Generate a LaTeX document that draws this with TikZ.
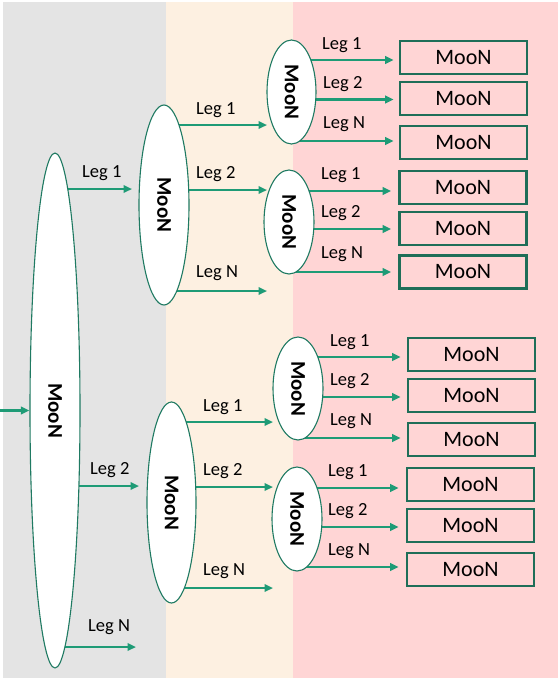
\documentclass[tikz,border=0pt]{standalone}
\usepackage{fontspec}
\usepackage{graphicx}
\setmainfont{Carlito}
\usetikzlibrary{arrows.meta,shapes.geometric}
\definecolor{bandgray}{HTML}{E4E4E4}
\definecolor{bandbeige}{HTML}{FDF0E1}
\definecolor{bandpink}{HTML}{FFD5D5}
\definecolor{arrgreen}{HTML}{1E9B76}
\definecolor{ellgreen}{HTML}{1F7A62}
\definecolor{boxgreen}{HTML}{1F6E58}
\pgfdeclarelayer{bands}
\pgfdeclarelayer{arrows}
\pgfsetlayers{bands,arrows,main}
\tikzset{
  moon/.style={ellipse, draw=ellgreen, line width=1.1pt, fill=white, inner sep=0pt},
  leafbox/.style={draw=boxgreen, line width=2.6pt, minimum width=127pt, minimum height=33pt, inner sep=0pt, font=\fontsize{22}{26}\selectfont},
  leglabel/.style={anchor=base west, inner sep=0pt, font=\fontsize{18.5}{22}\selectfont},
  arr/.style={draw=arrgreen, line width=2.1pt, -{Triangle[length=8.5pt,width=7.5pt]}},
}
\newcommand{\moontext}{\rotatebox{-90}{\fontsize{21}{25}\selectfont\bfseries MooN}}
\begin{document}
\begin{tikzpicture}[x=1pt,y=-1pt]
\useasboundingbox (0,0) rectangle (558,678);
\begin{pgfonlayer}{bands}
  \fill[bandgray] (3,2) rectangle (166,678);
  \fill[bandbeige] (166,2) rectangle (293,678);
  \fill[bandpink] (293,2) rectangle (558,678);
\end{pgfonlayer}

% ellipses
\node[moon, minimum width=50pt, minimum height=515pt] (M) at (55,410.5) {\moontext};
\node[moon, minimum width=50pt, minimum height=200pt] (m1) at (164,205) {\moontext};
\node[moon, minimum width=49pt, minimum height=201pt] (m2) at (171.5,502.5) {\moontext};
\node[moon, minimum width=49pt, minimum height=104pt] (s1) at (291.5,92) {\moontext};
\node[moon, minimum width=50pt, minimum height=104pt] (s2) at (289,222) {\moontext};
\node[moon, minimum width=50pt, minimum height=103pt] (s3) at (298,388.5) {\moontext};
\node[moon, minimum width=50pt, minimum height=104pt] (s4) at (297,519) {\moontext};

% boxes
\node[leafbox] (a1) at (463.5,57.5) {MooN};
\node[leafbox] (a2) at (463.5,98.5) {MooN};
\node[leafbox] (a3) at (463.5,142.5) {MooN};
\node[leafbox] (b1) at (463,187.5) {MooN};
\node[leafbox] (b2) at (463,228.5) {MooN};
\node[leafbox] (b3) at (463,272) {MooN};
\node[leafbox] (c1) at (471.5,354.5) {MooN};
\node[leafbox] (c2) at (471.5,395.5) {MooN};
\node[leafbox] (c3) at (471.5,439.5) {MooN};
\node[leafbox] (d1) at (470.5,484.5) {MooN};
\node[leafbox] (d2) at (470.5,525.5) {MooN};
\node[leafbox] (d3) at (470.5,569.5) {MooN};

% free arrow ends
\coordinate (in) at (0,410.5);
\coordinate (eM1) at (132,189);
\coordinate (eM2) at (139,486);
\coordinate (eM3) at (136,647);
\coordinate (e11) at (267,125);
\coordinate (e12) at (267,190);
\coordinate (e13) at (267,291);
\coordinate (e21) at (273,422);
\coordinate (e22) at (273,487);
\coordinate (e23) at (273,588);
\coordinate (ya1) at (0,60);
\coordinate (ya2) at (0,99.5);
\coordinate (ya3) at (0,141);
\coordinate (yb1) at (0,191);
\coordinate (yb2) at (0,229);
\coordinate (yb3) at (0,272);
\coordinate (yc1) at (0,357);
\coordinate (yc2) at (0,397);
\coordinate (yc3) at (0,438);
\coordinate (yd1) at (0,488);
\coordinate (yd2) at (0,527);
\coordinate (yd3) at (0,567);

\begin{pgfonlayer}{arrows}
  \draw[arr] (in) -- (M.west);
  \draw[arr] (M.center |- eM1) -- (eM1);
  \draw[arr] (M.center |- eM2) -- (eM2);
  \draw[arr] (M.center |- eM3) -- (eM3);
  \draw[arr] (m1.center |- e11) -- (e11);
  \draw[arr] (m1.center |- e12) -- (e12);
  \draw[arr] (m1.center |- e13) -- (e13);
  \draw[arr] (m2.center |- e21) -- (e21);
  \draw[arr] (m2.center |- e22) -- (e22);
  \draw[arr] (m2.center |- e23) -- (e23);
  \draw[arr, shorten >=5pt] (s1.center |- ya1) -- (a1.west |- ya1);
  \draw[arr, shorten >=5pt] (s1.center |- ya2) -- (a2.west |- ya2);
  \draw[arr, shorten >=5pt] (s1.center |- ya3) -- (a3.west |- ya3);
  \draw[arr, shorten >=7pt] (s2.center |- yb1) -- (b1.west |- yb1);
  \draw[arr, shorten >=7pt] (s2.center |- yb2) -- (b2.west |- yb2);
  \draw[arr, shorten >=7pt] (s2.center |- yb3) -- (b3.west |- yb3);
  \draw[arr, shorten >=6pt] (s3.center |- yc1) -- (c1.west |- yc1);
  \draw[arr, shorten >=6pt] (s3.center |- yc2) -- (c2.west |- yc2);
  \draw[arr, shorten >=6pt] (s3.center |- yc3) -- (c3.west |- yc3);
  \draw[arr, shorten >=7pt] (s4.center |- yd1) -- (d1.west |- yd1);
  \draw[arr, shorten >=7pt] (s4.center |- yd2) -- (d2.west |- yd2);
  \draw[arr, shorten >=7pt] (s4.center |- yd3) -- (d3.west |- yd3);
\end{pgfonlayer}

% labels
\node[leglabel] (lM1) at (82,177) {Leg 1};
\node[leglabel] (lM2) at (90,474) {Leg 2};
\node[leglabel] (lM3) at (88,631) {Leg N};
\node[leglabel] (l11) at (196,114) {Leg 1};
\node[leglabel] (l12) at (196,178) {Leg 2};
\node[leglabel] (l13) at (196,277) {Leg N};
\node[leglabel] (l21) at (203,411) {Leg 1};
\node[leglabel] (l22) at (203,475) {Leg 2};
\node[leglabel] (l23) at (203,575) {Leg N};
\node[leglabel] (la1) at (322,49) {Leg 1};
\node[leglabel] (la2) at (323,88) {Leg 2};
\node[leglabel] (la3) at (323,128) {Leg N};
\node[leglabel] (lb1) at (321,179) {Leg 1};
\node[leglabel] (lb2) at (321,217) {Leg 2};
\node[leglabel] (lb3) at (321,258) {Leg N};
\node[leglabel] (lc1) at (330,346) {Leg 1};
\node[leglabel] (lc2) at (330,385) {Leg 2};
\node[leglabel] (lc3) at (330,425) {Leg N};
\node[leglabel] (ld1) at (328,476) {Leg 1};
\node[leglabel] (ld2) at (328,515) {Leg 2};
\node[leglabel] (ld3) at (328,555) {Leg N};
\end{tikzpicture}
\end{document}
